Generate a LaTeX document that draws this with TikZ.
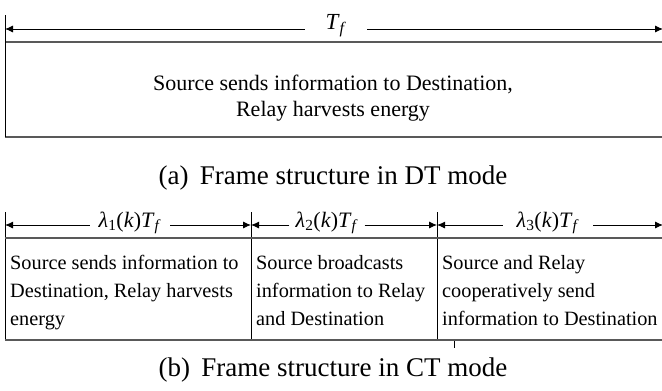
\documentclass[tikz,border=0pt]{standalone}
\usepackage{fontspec}
\setmainfont{Liberation Serif}
\usetikzlibrary{arrows.meta}
\newcommand{\lam}[1]{\textit{λ}\textsubscript{#1}(\textit{k})\textit{T}\textsubscript{\textit{f}}}
\begin{document}
\begin{tikzpicture}[x=1pt,y=-1pt,
  dimarrow/.style={draw=black,line width=0.9pt,-{Latex[length=8pt,width=7pt]}},
  hline/.style={draw=black!65,line width=1.6pt},
  vline/.style={draw=black,line width=1pt},
  lbl/.style={inner sep=0pt,font=\fontsize{23}{26}\selectfont},
  body/.style={inner sep=0pt,font=\fontsize{20.3}{28}\selectfont},
  captext/.style={inner sep=0pt,font=\fontsize{27}{30}\selectfont}]
\useasboundingbox (0,0) rectangle (662,391);
% ---------- (a) ----------
\coordinate (aL) at (5,29);
\coordinate (aR) at (663,29);
\node[lbl,minimum width=62pt] (tf) at (336,26) {\textit{T}\textsubscript{\textit{f}}};
\draw[dimarrow] (tf.west |- aL) -- (aL);
\draw[dimarrow] (tf.east |- aR) -- (aR);
\coordinate (aTL) at (5,42);
\coordinate (aTR) at (662,42);
\coordinate (aBL) at (5,137);
\coordinate (aBR) at (662,137);
\coordinate (aV) at (5,15);
\draw[hline] (aTL) -- (aTR);
\draw[hline] (aBL) -- (aBR);
\draw[vline] (aV) -- (aBL);
\node[body,align=center,font=\fontsize{22}{26}\selectfont] (atext) at (333,98) {Source sends information to Destination,\\Relay harvests energy};
\node[captext] (capa) at (333,178) {(a)\, Frame structure in DT mode};
% ---------- (b) ----------
\coordinate (b0t) at (5,212);
\coordinate (b1t) at (251,212);
\coordinate (b2t) at (437,212);
\coordinate (b0b) at (5,340);
\coordinate (b1b) at (251,340);
\coordinate (b2b) at (437,340);
\coordinate (b0) at (5,225);
\coordinate (b1) at (251,225);
\coordinate (b2) at (437,225);
\coordinate (b3) at (663,225);
\node[lbl,font=\fontsize{22}{26}\selectfont,minimum width=80pt] (l1) at (130,223) {\lam{1}};
\node[lbl,font=\fontsize{22}{26}\selectfont,minimum width=75pt] (l2) at (327,223) {\lam{2}};
\node[lbl,font=\fontsize{22}{26}\selectfont,minimum width=90pt] (l3) at (548,223) {\lam{3}};
\draw[dimarrow] (l1.west |- b0) -- (b0);
\draw[dimarrow] (l1.east |- b1) -- (b1);
\draw[dimarrow] (l2.west |- b1) -- (b1);
\draw[dimarrow] (l2.east |- b2) -- (b2);
\draw[dimarrow] (l3.west |- b2) -- (b2);
\draw[dimarrow] (l3.east |- b3) -- (b3);
\draw[vline] (b0t) -- (b0b);
\draw[vline] (b1t) -- (b1b);
\draw[vline] (b2t) -- (b2b);
\coordinate (bTL) at (5,238);
\coordinate (bTR) at (662,238);
\coordinate (bBL) at (5,340);
\coordinate (bBR) at (662,340);
\draw[hline] (bTL) -- (bTR);
\draw[hline] (bBL) -- (bBR);
\node[body,align=left,anchor=north west] (t1) at (10,255) {Source sends information to\\Destination, Relay harvests\\energy};
\node[body,align=left,anchor=north west] (t2) at (256,255) {Source broadcasts\\information to Relay\\and Destination};
\node[body,align=left,anchor=north west] (t3) at (442,255) {Source and Relay\\cooperatively send\\information to Destination};
\coordinate (tk1) at (454,341);
\coordinate (tk2) at (454,348);
\draw[draw=black,line width=0.6pt] (tk1) -- (tk2);
\node[captext] (capb) at (333,370) {(b)\, Frame structure in CT mode};
\end{tikzpicture}
\end{document}
